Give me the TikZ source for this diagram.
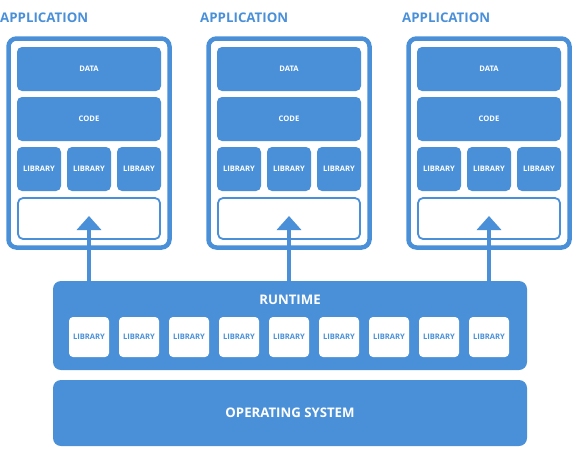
\documentclass[tikz,border=0pt]{standalone}
\usepackage{fontspec}
\setmainfont{Open Sans}
\definecolor{bl}{HTML}{4A90D9}
\tikzset{
  fillbox/.style={fill=bl, draw=none, rounded corners=5pt, text=white, font=\bfseries\fontsize{7.6}{9}\selectfont, inner sep=0pt},
  libw/.style={fill=white, draw=none, rounded corners=4pt, text=bl, font=\bfseries\fontsize{7.6}{9}\selectfont, inner sep=0pt, minimum width=40pt, minimum height=40pt},
  frame/.style={draw=bl, line width=4.5pt, rounded corners=8pt, fill=white},
  slot/.style={draw=bl, line width=1.8pt, rounded corners=5pt, fill=white},
  title/.style={text=bl, font=\bfseries\fontsize{13.3}{15}\selectfont, anchor=west, inner sep=0pt},
  uparrow/.style={draw=bl, line width=4pt, -{Triangle[width=24pt,length=14pt]}},
}
\usetikzlibrary{arrows.meta}
\begin{document}
\begin{tikzpicture}[x=1pt,y=-1pt]
\useasboundingbox (0,0) rectangle (580,450);
% runtime and OS
\node[fillbox, minimum width=474pt, minimum height=89pt, rounded corners=8pt] (rt) at (290,325.5) {};
\node[text=white, font=\bfseries\fontsize{13.2}{15}\selectfont] (rtl) at (290,299.5) {RUNTIME};
\foreach \i in {0,...,8} {
  \node[libw] (rl\i) at (89+50*\i,337) {LIBRARY};
}
\node[fillbox, minimum width=474pt, minimum height=66pt, rounded corners=8pt, font=\bfseries\fontsize{13.2}{15}\selectfont] (os) at (290,413) {OPERATING SYSTEM};
% applications
\foreach \k/\tx in {0/0,1/200,2/402} {
  \begin{scope}[xshift=\k*200pt]
    \node[title] (t\k) at (\tx-\k*200,17.5) {APPLICATION};
    \node[frame, minimum width=161pt, minimum height=209pt] (f\k) at (89,143) {};
    \node[fillbox, minimum width=144pt, minimum height=44pt] (d\k) at (89,69) {DATA};
    \node[fillbox, minimum width=144pt, minimum height=44pt] (c\k) at (89,119) {CODE};
    \node[fillbox, minimum width=44pt, minimum height=44pt] (la\k) at (39,169) {LIBRARY};
    \node[fillbox, minimum width=44pt, minimum height=44pt] (lb\k) at (89,169) {LIBRARY};
    \node[fillbox, minimum width=44pt, minimum height=44pt] (lc\k) at (139,169) {LIBRARY};
    \node[slot, minimum width=142pt, minimum height=41pt] (s\k) at (89,218.5) {};
    \coordinate (tip\k) at (89,216);
  \end{scope}
  \draw[uparrow] (rt.north -| tip\k) -- (tip\k);
}
\end{tikzpicture}
\end{document}
